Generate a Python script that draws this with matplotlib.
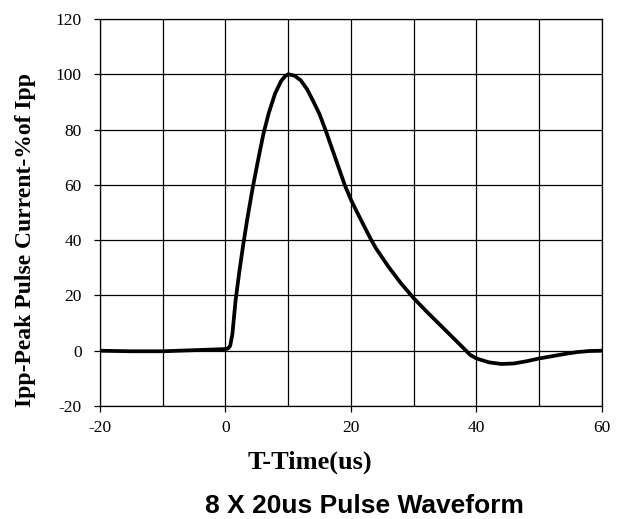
import matplotlib
matplotlib.use('Agg')
import matplotlib.pyplot as plt
import numpy as np

# waveform (time in us, % of Ipp)
t_us = [-20, -15, -10, -5, 0, 0.4, 0.75, 1.1, 1.6, 2.2, 2.87, 3.5, 4.3, 5.2, 6.05,
        6.9, 7.9, 8.85, 9.5, 10, 11, 12, 13, 14, 15, 16, 17, 18, 19, 20, 21, 22,
        23.2, 24, 26, 28, 30, 32, 34, 36, 38, 39, 40, 42, 44, 46, 48, 50, 52, 54,
        56, 58, 60]
ipp_pct = [0, -0.2, -0.2, 0.2, 0.6, 0.8, 1.8, 6, 18, 28.5, 39, 48, 58.5, 69, 78.5,
           86, 93, 97.5, 99.3, 100, 99.5, 97.8, 94.6, 90.2, 85.5, 79.5, 73, 66.5, 60, 54.6, 50, 45.5,
           40.2, 37, 30.3, 24.3, 19, 14.3, 9.8, 5.3, 0.8, -1.5, -2.8, -4.2, -4.8, -4.6, -3.8, -2.8, -2, -1.2,
           -0.5, -0.1, 0]

x_ticks = [-20, 0, 20, 40, 60]
y_ticks = [-20, 0, 20, 40, 60, 80, 100, 120]
x_grid = [-10, 10, 30, 50]

serif = ['Liberation Serif', 'DejaVu Serif']
sans = ['Liberation Sans', 'DejaVu Sans']

fig = plt.figure(figsize=(6.27, 5.19), dpi=100)
ax = fig.add_axes([0.1595, 0.2177, 0.8005, 0.7457])

for v in y_ticks:
    ax.axhline(v, color='black', lw=0.9, zorder=1)
for v in x_ticks + x_grid:
    ax.axvline(v, color='black', lw=0.9, zorder=1)

ax.plot(t_us, ipp_pct, color='black', lw=2.7, zorder=3, solid_joinstyle='round')

ax.set_xlim(-20, 60)
ax.set_ylim(-20, 120)
ax.set_xticks(x_ticks)
ax.set_yticks(y_ticks)
ax.set_xticklabels([str(v) for v in x_ticks], family=serif, fontsize=12.5)
ax.set_yticklabels([str(v) for v in y_ticks], family=serif, fontsize=12.5)
ax.tick_params(axis='both', direction='out', length=4, width=0.9, color='black')
ax.tick_params(axis='y', pad=9)
ax.tick_params(axis='x', pad=6)
for s in ax.spines.values():
    s.set_linewidth(0.9)

# axis titles sit off-centre in the original
fig.text(0.4944, 0.0963, 'T-Time(us)', family=serif, fontsize=19,
         fontweight='bold', ha='center', va='baseline')
fig.text(0.040, 0.5376, 'Ipp-Peak Pulse Current-%of Ipp', family=serif, fontsize=17,
         fontweight='bold', rotation=90, ha='center', va='center')

fig.text(0.582, 0.0121, '8 X 20us Pulse Waveform', family=sans, fontsize=19,
         fontweight='bold', ha='center', va='baseline')

fig.savefig('out.png', dpi=100)
